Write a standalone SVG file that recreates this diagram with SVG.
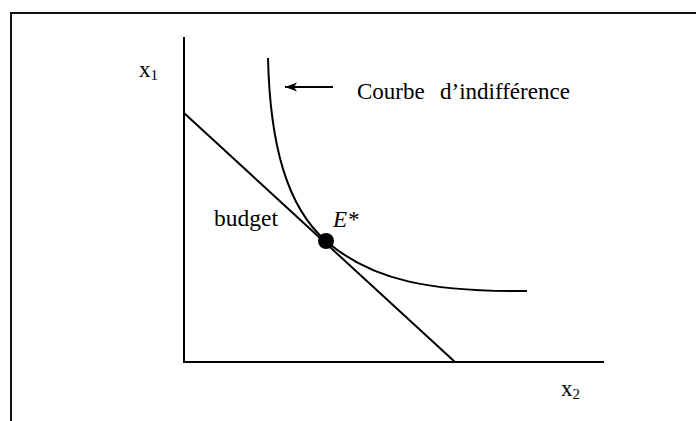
<svg xmlns="http://www.w3.org/2000/svg" width="696" height="421" viewBox="0 0 696 421">
<style>
.ln{fill:none;stroke:#000;stroke-width:2}
.t{font-family:"Liberation Serif","Times New Roman",serif;fill:#000}
</style>
<defs>
<marker id="ah" markerWidth="13" markerHeight="10" refX="12" refY="5" orient="auto" markerUnits="userSpaceOnUse">
<path d="M12,5 L0,0.5 L3,5 L0,9.5 Z" fill="#000"/>
</marker>
</defs>
<rect width="696" height="421" fill="#fff"/>
<g id="frame">
<path d="M11,421 V13 H696" fill="none" stroke="#111" stroke-width="2"/>
</g>
<g id="axes">
<path class="ln" d="M184,37 V362 H604"/>
</g>
<g id="connectors">
<path id="budget-line" class="ln" d="M184,113 L455,362"/>
<path id="indifference-curve" class="ln" d="M268,58 C270,145 287,207 326,241 C372,281 432,292 527,291"/>
<path id="arrow" class="ln" d="M333,87 H285" marker-end="url(#ah)"/>
</g>
<g id="equilibrium">
<circle cx="326" cy="241" r="8" fill="#000"/>
<text class="t" x="333" y="227" font-size="23" font-style="italic">E*</text>
</g>
<g id="labels">
<text class="t" x="139" y="77" font-size="23">x<tspan font-size="15" dy="3">1</tspan></text>
<text class="t" x="561" y="396" font-size="23">x<tspan font-size="15" dy="3">2</tspan></text>
<text class="t" x="357" y="99" font-size="23">Courbe</text>
<text class="t" x="440" y="99" font-size="23">d’indifférence</text>
<text class="t" x="214" y="226" font-size="23.5">budget</text>
</g>
</svg>
